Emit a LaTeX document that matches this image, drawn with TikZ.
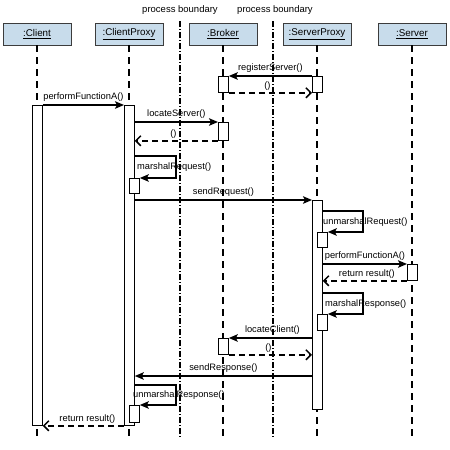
\documentclass[tikz,border=0pt]{standalone}
\usepackage{fontspec}
\setmainfont{Liberation Sans}
\usetikzlibrary{arrows.meta}
\definecolor{hdrfill}{RGB}{200,220,235}
\definecolor{hdrline}{RGB}{60,60,60}
\begin{document}
\begin{tikzpicture}[x=1pt,y=-1pt,
  hdr/.style={draw=hdrline,fill=hdrfill,line width=0.9pt,minimum width=68pt,minimum height=22pt,inner sep=0pt,font=\fontsize{9.8}{11}\selectfont},
  lifeline/.style={line width=2pt,dash pattern=on 7pt off 5pt},
  boundary/.style={line width=1.3pt,dash pattern=on 6pt off 2pt on 1pt off 2pt},
  act/.style={draw,fill=white,line width=0.8pt,minimum width=10pt,inner sep=0pt,anchor=north west},
  msg/.style={line width=1.5pt,-{Stealth[length=9pt,width=7.5pt,inset=2pt]}},
  ret/.style={line width=1.5pt,dash pattern=on 6pt off 4pt,-{Straight Barb[length=5pt,width=10pt]}},
  lbl/.style={font=\fontsize{9.3}{10}\selectfont,inner sep=1pt},
  pbl/.style={font=\fontsize{9.5}{11}\selectfont,inner sep=1pt},
]
\useasboundingbox (0,0) rectangle (450,450);

% headers
\node[hdr] (client) at (37,34) {\underline{:Client}};
\node[hdr] (cproxy) at (129,34) {\underline{:ClientProxy}};
\node[hdr] (broker) at (223,34) {\underline{:Broker}};
\node[hdr] (sproxy) at (317,34) {\underline{:ServerProxy}};
\node[hdr] (server) at (412,34) {\underline{:Server}};

% lifeline ends
\coordinate (clEnd) at (37,437);
\coordinate (cpEnd) at (129,437);
\coordinate (brEnd) at (223,437);
\coordinate (spEnd) at (317,437);
\coordinate (svEnd) at (412,437);
\draw[lifeline] (client.south) -- (clEnd);
\draw[lifeline] (cproxy.south) -- (cpEnd);
\draw[lifeline] (broker.south) -- (brEnd);
\draw[lifeline] (sproxy.south) -- (spEnd);
\draw[lifeline] (server.south) -- (svEnd);

% process boundaries
\node[pbl] (pb1) at (180,10) {process boundary};
\node[pbl] (pb2) at (275,10) {process boundary};
\coordinate (pb1s) at (180,21);
\coordinate (pb1e) at (180,437);
\coordinate (pb2s) at (273,21);
\coordinate (pb2e) at (273,437);
\draw[boundary] (pb1s) -- (pb1e);
\draw[boundary] (pb2s) -- (pb2e);

% activations
\node[act,minimum height=320pt] (clA) at (32,105) {};
\node[act,minimum height=320pt] (cpA) at (124,105) {};
\node[act,minimum height=15pt] (cpN1) at (129,178) {};
\node[act,minimum height=17pt] (cpN2) at (129,405) {};
\node[act,minimum height=16pt] (brA1) at (218,76) {};
\node[act,minimum height=18pt] (brA2) at (218,122) {};
\node[act,minimum height=16pt] (brA3) at (218,338) {};
\node[act,minimum height=16pt] (spA1) at (312,76) {};
\node[act,minimum height=209pt] (spA2) at (312,200) {};
\node[act,minimum height=15pt] (spN1) at (317,232) {};
\node[act,minimum height=16pt] (spN2) at (317,314) {};
\node[act,minimum height=16pt] (svA) at (407,264) {};

% messages
\draw[msg] (spA1.north west) -- node[lbl,above=2pt] (l1) {registerServer()} (brA1.north east);
\draw[ret] (brA1.south east) -- node[lbl,above=1pt,xshift=-3pt] (l2) {()} (spA1.south west);

\draw[msg] (clA.north east) -- node[lbl,above=2pt] (l3) {performFunctionA()} (cpA.north west);

\draw[msg] (cpA.east |- brA2.north) -- node[lbl,above=2pt] (l4) {locateServer()} (brA2.north west);
\draw[ret] (brA2.south west) -- node[lbl,above=1pt,xshift=-3pt] (l5) {()} (cpA.east |- brA2.south);

\coordinate (mrS) at (134,156);
\draw[msg] (mrS) -- ++(42,0) |- (cpN1.north east);
\node[lbl,anchor=west] (l6) at (136,167) {marshalRequest()};

\draw[msg] (cpA.east |- spA2.north) -- node[lbl,above=2pt] (l7) {sendRequest()} (spA2.north west);

\coordinate (urS) at (322,211);
\draw[msg] (urS) -- ++(41,0) |- (spN1.north east);
\node[lbl,anchor=west] (l8) at (322,222) {unmarshalRequest()};

\draw[msg] (spA2.east |- svA.north) -- node[lbl,above=2pt] (l9) {performFunctionA()} (svA.north west);
\draw[ret] (svA.south west) -- node[lbl,above=1pt,xshift=2pt] (l10) {return result()} (spA2.east |- svA.south);

\coordinate (mpS) at (322,293);
\draw[msg] (mpS) -- ++(41,0) |- (spN2.north east);
\node[lbl,anchor=west] (l11) at (324,304) {marshalResponse()};

\draw[msg] (spA2.west |- brA3.north) -- node[lbl,above=2pt,xshift=2pt] (l12) {locateClient()} (brA3.north east);
\draw[ret] (brA3.south east) -- node[lbl,above=1pt,xshift=-2pt] (l13) {()} (spA2.west |- brA3.south);

\coordinate (srS) at (312,376);
\draw[msg] (srS) -- node[lbl,above=2pt] (l14) {sendResponse()} (cpA.east |- srS);

\coordinate (umS) at (134,385);
\draw[msg] (umS) -- ++(42,0) |- (cpN2.north east);
\node[lbl,anchor=west] (l15) at (132,395) {unmarshalResponse()};

\draw[ret] (cpA.south west) -- node[lbl,above=1pt,xshift=4pt] (l16) {return result()} (clA.south east);
\end{tikzpicture}
\end{document}
